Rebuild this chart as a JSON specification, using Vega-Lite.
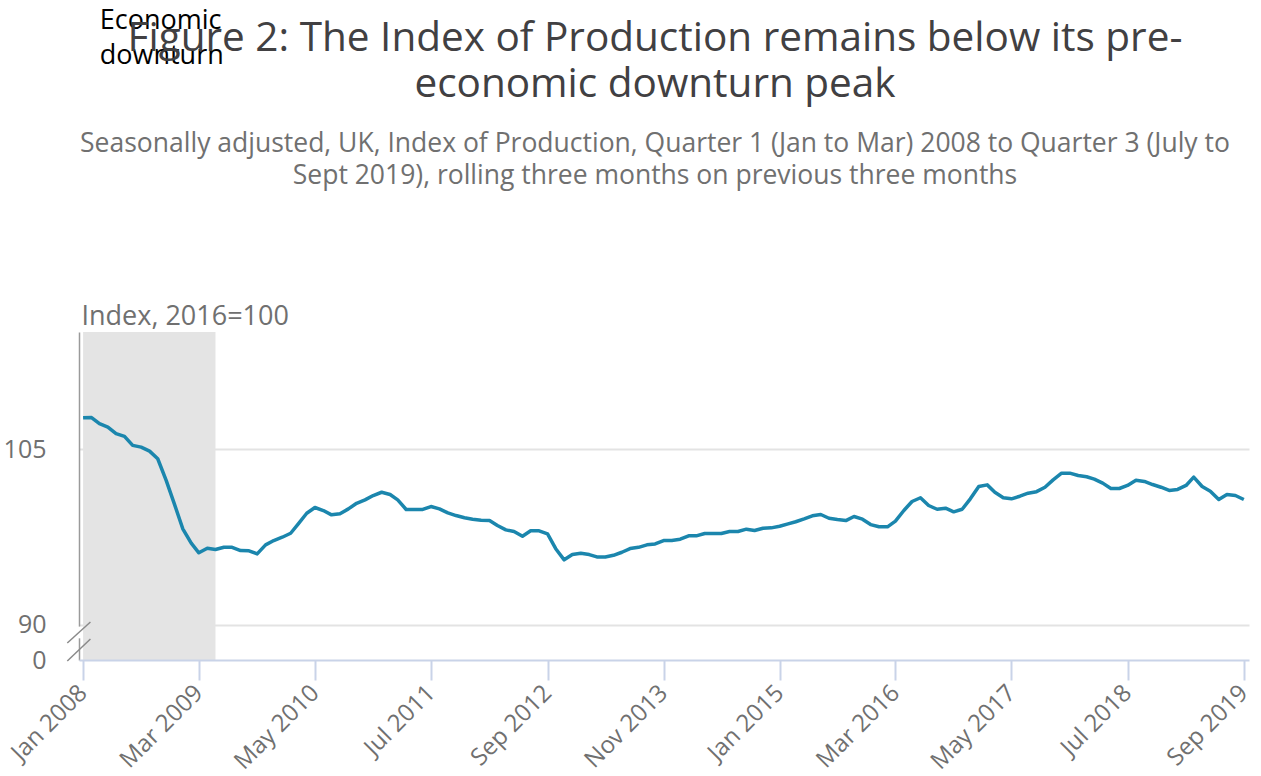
{
  "$schema": "https://vega.github.io/schema/vega-lite/v6.json",
  "width": 1170,
  "height": 328,
  "autosize": {"type": "none"},
  "padding": {"left": 79, "top": 332, "right": 12, "bottom": 116},
  "background": "white",
  "config": {"font": "Open Sans", "view": {"stroke": null}},
  "title": {
    "text": ["Figure 2: The Index of Production remains below its pre-", "economic downturn peak"],
    "subtitle": ["Seasonally adjusted, UK, Index of Production, Quarter 1 (Jan to Mar) 2008 to Quarter 3 (July to", "Sept 2019), rolling three months on previous three months"],
    "anchor": "middle",
    "frame": "group",
    "dx": -9,
    "offset": -183,
    "font": "Open Sans",
    "fontSize": 40.5,
    "fontWeight": "normal",
    "color": "#414042",
    "lineHeight": 46,
    "subtitleFont": "Open Sans",
    "subtitleFontSize": 26.5,
    "subtitleColor": "#707070",
    "subtitleLineHeight": 32,
    "subtitlePadding": 26
  },
  "data": {
    "values": [
      {"date": "2008-01-01", "value": 107.68},
      {"date": "2008-02-01", "value": 107.7},
      {"date": "2008-03-01", "value": 107.17},
      {"date": "2008-04-01", "value": 106.88},
      {"date": "2008-05-01", "value": 106.32},
      {"date": "2008-06-01", "value": 106.09},
      {"date": "2008-07-01", "value": 105.32},
      {"date": "2008-08-01", "value": 105.17},
      {"date": "2008-09-01", "value": 104.83},
      {"date": "2008-10-01", "value": 104.18},
      {"date": "2008-11-01", "value": 102.33},
      {"date": "2008-12-01", "value": 100.33},
      {"date": "2009-01-01", "value": 98.2},
      {"date": "2009-02-01", "value": 96.97},
      {"date": "2009-03-01", "value": 96.15},
      {"date": "2009-04-01", "value": 96.54},
      {"date": "2009-05-01", "value": 96.43},
      {"date": "2009-06-01", "value": 96.62},
      {"date": "2009-07-01", "value": 96.62},
      {"date": "2009-08-01", "value": 96.34},
      {"date": "2009-09-01", "value": 96.32},
      {"date": "2009-10-01", "value": 96.06},
      {"date": "2009-11-01", "value": 96.83},
      {"date": "2009-12-01", "value": 97.2},
      {"date": "2010-01-01", "value": 97.48},
      {"date": "2010-02-01", "value": 97.82},
      {"date": "2010-03-01", "value": 98.62},
      {"date": "2010-04-01", "value": 99.53},
      {"date": "2010-05-01", "value": 100.02},
      {"date": "2010-06-01", "value": 99.76},
      {"date": "2010-07-01", "value": 99.39},
      {"date": "2010-08-01", "value": 99.48},
      {"date": "2010-09-01", "value": 99.9},
      {"date": "2010-10-01", "value": 100.38},
      {"date": "2010-11-01", "value": 100.67},
      {"date": "2010-12-01", "value": 101.04},
      {"date": "2011-01-01", "value": 101.32},
      {"date": "2011-02-01", "value": 101.13},
      {"date": "2011-03-01", "value": 100.67},
      {"date": "2011-04-01", "value": 99.85},
      {"date": "2011-05-01", "value": 99.85},
      {"date": "2011-06-01", "value": 99.85},
      {"date": "2011-07-01", "value": 100.1},
      {"date": "2011-08-01", "value": 99.9},
      {"date": "2011-09-01", "value": 99.56},
      {"date": "2011-10-01", "value": 99.33},
      {"date": "2011-11-01", "value": 99.14},
      {"date": "2011-12-01", "value": 99.02},
      {"date": "2012-01-01", "value": 98.93},
      {"date": "2012-02-01", "value": 98.9},
      {"date": "2012-03-01", "value": 98.48},
      {"date": "2012-04-01", "value": 98.11},
      {"date": "2012-05-01", "value": 97.97},
      {"date": "2012-06-01", "value": 97.56},
      {"date": "2012-07-01", "value": 98.03},
      {"date": "2012-08-01", "value": 98.03},
      {"date": "2012-09-01", "value": 97.77},
      {"date": "2012-10-01", "value": 96.5},
      {"date": "2012-11-01", "value": 95.55},
      {"date": "2012-12-01", "value": 96.0},
      {"date": "2013-01-01", "value": 96.11},
      {"date": "2013-02-01", "value": 96.0},
      {"date": "2013-03-01", "value": 95.8},
      {"date": "2013-04-01", "value": 95.8},
      {"date": "2013-05-01", "value": 95.94},
      {"date": "2013-06-01", "value": 96.2},
      {"date": "2013-07-01", "value": 96.51},
      {"date": "2013-08-01", "value": 96.62},
      {"date": "2013-09-01", "value": 96.83},
      {"date": "2013-10-01", "value": 96.91},
      {"date": "2013-11-01", "value": 97.2},
      {"date": "2013-12-01", "value": 97.2},
      {"date": "2014-01-01", "value": 97.31},
      {"date": "2014-02-01", "value": 97.6},
      {"date": "2014-03-01", "value": 97.6},
      {"date": "2014-04-01", "value": 97.8},
      {"date": "2014-05-01", "value": 97.8},
      {"date": "2014-06-01", "value": 97.8},
      {"date": "2014-07-01", "value": 97.97},
      {"date": "2014-08-01", "value": 97.97},
      {"date": "2014-09-01", "value": 98.17},
      {"date": "2014-10-01", "value": 98.05},
      {"date": "2014-11-01", "value": 98.25},
      {"date": "2014-12-01", "value": 98.28},
      {"date": "2015-01-01", "value": 98.42},
      {"date": "2015-02-01", "value": 98.62},
      {"date": "2015-03-01", "value": 98.8},
      {"date": "2015-04-01", "value": 99.05},
      {"date": "2015-05-01", "value": 99.31},
      {"date": "2015-06-01", "value": 99.42},
      {"date": "2015-07-01", "value": 99.1},
      {"date": "2015-08-01", "value": 98.99},
      {"date": "2015-09-01", "value": 98.9},
      {"date": "2015-10-01", "value": 99.25},
      {"date": "2015-11-01", "value": 99.02},
      {"date": "2015-12-01", "value": 98.56},
      {"date": "2016-01-01", "value": 98.37},
      {"date": "2016-02-01", "value": 98.37},
      {"date": "2016-03-01", "value": 98.85},
      {"date": "2016-04-01", "value": 99.76},
      {"date": "2016-05-01", "value": 100.53},
      {"date": "2016-06-01", "value": 100.85},
      {"date": "2016-07-01", "value": 100.19},
      {"date": "2016-08-01", "value": 99.87},
      {"date": "2016-09-01", "value": 99.96},
      {"date": "2016-10-01", "value": 99.65},
      {"date": "2016-11-01", "value": 99.87},
      {"date": "2016-12-01", "value": 100.76},
      {"date": "2017-01-01", "value": 101.81},
      {"date": "2017-02-01", "value": 101.95},
      {"date": "2017-03-01", "value": 101.32},
      {"date": "2017-04-01", "value": 100.85},
      {"date": "2017-05-01", "value": 100.76},
      {"date": "2017-06-01", "value": 100.98},
      {"date": "2017-07-01", "value": 101.24},
      {"date": "2017-08-01", "value": 101.37},
      {"date": "2017-09-01", "value": 101.75},
      {"date": "2017-10-01", "value": 102.38},
      {"date": "2017-11-01", "value": 102.95},
      {"date": "2017-12-01", "value": 102.95},
      {"date": "2018-01-01", "value": 102.75},
      {"date": "2018-02-01", "value": 102.64},
      {"date": "2018-03-01", "value": 102.44},
      {"date": "2018-04-01", "value": 102.1},
      {"date": "2018-05-01", "value": 101.64},
      {"date": "2018-06-01", "value": 101.64},
      {"date": "2018-07-01", "value": 101.9},
      {"date": "2018-08-01", "value": 102.35},
      {"date": "2018-09-01", "value": 102.24},
      {"date": "2018-10-01", "value": 101.98},
      {"date": "2018-11-01", "value": 101.75},
      {"date": "2018-12-01", "value": 101.47},
      {"date": "2019-01-01", "value": 101.56},
      {"date": "2019-02-01", "value": 101.9},
      {"date": "2019-03-01", "value": 102.61},
      {"date": "2019-04-01", "value": 101.81},
      {"date": "2019-05-01", "value": 101.41},
      {"date": "2019-06-01", "value": 100.7},
      {"date": "2019-07-01", "value": 101.13},
      {"date": "2019-08-01", "value": 101.04},
      {"date": "2019-09-01", "value": 100.7}
    ]
  },
  "layer": [
    {
      "data": {"values": [{"start": "2008-01-01", "end": "2009-05-01", "label": "Economic downturn"}]},
      "mark": {"type": "rect", "color": "#e4e4e4"},
      "encoding": {
        "x": {
          "field": "start", "type": "temporal",
          "scale": {"type": "utc", "nice": false, "domain": [{"year": 2007, "month": 12, "date": 17, "utc": true}, {"year": 2019, "month": 9, "date": 20, "utc": true}]},
          "axis": {
            "title": null,
            "values": [
              {"year": 2008, "month": 1, "date": 1, "utc": true},
              {"year": 2009, "month": 3, "date": 1, "utc": true},
              {"year": 2010, "month": 5, "date": 1, "utc": true},
              {"year": 2011, "month": 7, "date": 1, "utc": true},
              {"year": 2012, "month": 9, "date": 1, "utc": true},
              {"year": 2013, "month": 11, "date": 1, "utc": true},
              {"year": 2015, "month": 1, "date": 1, "utc": true},
              {"year": 2016, "month": 3, "date": 1, "utc": true},
              {"year": 2017, "month": 5, "date": 1, "utc": true},
              {"year": 2018, "month": 7, "date": 1, "utc": true},
              {"year": 2019, "month": 9, "date": 1, "utc": true}
            ],
            "format": "%b %Y",
            "labelAngle": -45,
            "labelAlign": "right",
            "labelBaseline": "middle",
            "labelFontSize": 24,
            "labelColor": "#707070",
            "labelPadding": 9,
            "labelOverlap": false,
            "labelFlush": false,
            "tickColor": "#c9d3e8",
            "tickSize": 20,
            "tickWidth": 2,
            "domainColor": "#c9d3e8",
            "domainWidth": 2,
            "grid": false,
            "zindex": 1
          }
        },
        "x2": {"field": "end"}
      }
    },
    {
      "mark": {"type": "line", "color": "#1b86ad", "strokeWidth": 3.5, "strokeJoin": "round"},
      "encoding": {
        "x": {"field": "date", "type": "temporal", "title": null,
          "scale": {"type": "utc", "nice": false, "domain": [{"year": 2007, "month": 12, "date": 17, "utc": true}, {"year": 2019, "month": 9, "date": 20, "utc": true}]}},
        "y": {
          "field": "value", "type": "quantitative",
          "scale": {"domain": [87, 115], "nice": false, "zero": false},
          "axis": {
            "title": "Index, 2016=100",
            "titleAngle": 0,
            "titleAlign": "left",
            "titleBaseline": "alphabetic",
            "titleX": 2,
            "titleY": -8,
            "titleFontSize": 27,
            "titleFontWeight": "normal",
            "titleColor": "#707070",
            "values": [87, 90, 105],
            "labelExpr": "datum.value == 87 ? '0' : datum.label",
            "labelFontSize": 25,
            "labelColor": "#707070",
            "labelPadding": 33,
            "ticks": false,
            "grid": true,
            "gridColor": "#e3e3e3",
            "gridWidth": 2,
            "gridOpacity": {"condition": {"test": "datum.value == 87", "value": 0}, "value": 1},
            "domainColor": "#9a9a9a",
            "domainWidth": 1.5
          }
        }
      }
    },
    {
      "data": {"values": [{}]},
      "mark": {"type": "text", "text": ["Economic", "downturn"], "align": "left", "baseline": "alphabetic", "fontSize": 27, "lineHeight": 35, "color": "#000000"},
      "encoding": {
        "x": {"datum": {"year": 2008, "month": 3, "date": 2, "utc": true}, "type": "temporal"},
        "y": {"datum": 140.9, "type": "quantitative"}
      }
    },
    {
      "data": {"values": [{}]},
      "mark": {"type": "rule", "color": "#ffffff", "strokeWidth": 4},
      "encoding": {
        "x": {"datum": {"year": 2007, "month": 12, "date": 17, "utc": true}, "type": "temporal"},
        "y": {"datum": 89.85, "type": "quantitative"},
        "y2": {"datum": 88.85}
      }
    },
    {
      "data": {"values": [{}]},
      "mark": {"type": "rule", "color": "#8a8a8a", "strokeWidth": 1.5},
      "encoding": {
        "x": {"datum": {"year": 2007, "month": 11, "date": 4, "utc": true}, "type": "temporal"},
        "x2": {"datum": {"year": 2008, "month": 1, "date": 28, "utc": true}},
        "y": {"datum": 88.45, "type": "quantitative"},
        "y2": {"datum": 90.24}
      }
    },
    {
      "data": {"values": [{}]},
      "mark": {"type": "rule", "color": "#8a8a8a", "strokeWidth": 1.5},
      "encoding": {
        "x": {"datum": {"year": 2007, "month": 11, "date": 4, "utc": true}, "type": "temporal"},
        "x2": {"datum": {"year": 2008, "month": 1, "date": 28, "utc": true}},
        "y": {"datum": 86.91, "type": "quantitative"},
        "y2": {"datum": 88.79}
      }
    }
  ]
}
